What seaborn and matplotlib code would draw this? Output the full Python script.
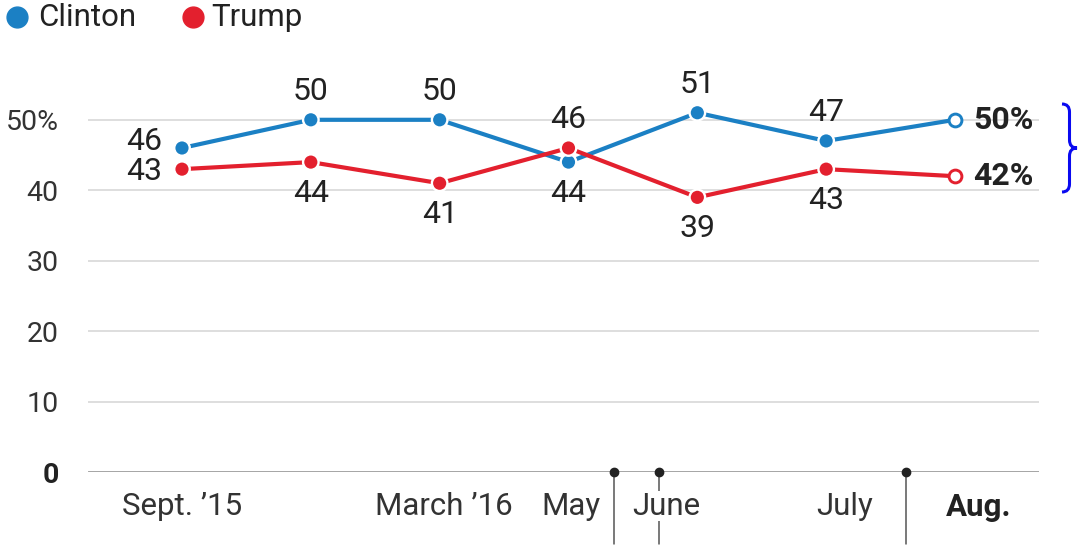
import numpy as np
import pandas as pd
import seaborn as sns
import matplotlib.pyplot as plt
from matplotlib.lines import Line2D
from matplotlib.path import Path
from matplotlib.patches import PathPatch

# Poll results, one entry per survey
polls = ["Sept. 2015", "Jan. 2016", "March 2016", "May 2016", "June 2016", "July 2016", "Aug. 2016"]
clinton = [46, 50, 50, 44, 51, 47, 50]
trump = [43, 44, 41, 46, 39, 43, 42]

# Month labels along the bottom (placed on the survey index scale)
month_labels = ["Sept. \u201915", "March \u201916", "May", "June", "July", "Aug."]
month_pos = [0.0, 2.03, 3.02, 3.76, 5.14, 6.18]
month_dividers = [3.35, 3.70, 5.62]

y_ticks = [0, 10, 20, 30, 40, 50]
y_tick_labels = ["0", "10", "20", "30", "40", "50%"]

BLUE = "#1b80c4"
RED = "#e3202e"
TEXT = "#222222"

sns.set_theme(style="white")
plt.rcParams["font.family"] = ["Roboto", "DejaVu Sans"]

df = pd.DataFrame({
    "idx": list(range(len(polls))) * 2,
    "value": clinton + trump,
    "candidate": ["Clinton"] * len(polls) + ["Trump"] * len(polls),
})
palette = {"Clinton": BLUE, "Trump": RED}

W, H = 1083, 548
fig = plt.figure(figsize=(W / 100, H / 100), dpi=100)
ax = fig.add_axes([88 / W, (H - 472.3) / H, 951 / W, 58 * 7.05 / H])
ax.set_axisbelow(False)

# gridlines and zero baseline
for y in y_ticks[1:]:
    ax.axhline(y, color="#d4d4d4", lw=1.1, zorder=0)
ax.axhline(0, color="#8a8a8a", lw=1.8, zorder=1)

sns.lineplot(data=df, x="idx", y="value", hue="candidate", palette=palette,
             lw=3.0, legend=False, ax=ax, zorder=2)
filled = df[df["idx"] < len(polls) - 1]
sns.scatterplot(data=filled, x="idx", y="value", hue="candidate", palette=palette,
                s=125, edgecolor="white", linewidth=1.7, legend=False, ax=ax, zorder=3)
last = df[df["idx"] == len(polls) - 1]
for _, r in last.iterrows():
    ax.scatter(r["idx"], r["value"], s=85, facecolor="white",
               edgecolor=palette[r["candidate"]], linewidth=2.1, zorder=4)

ax.set_xlim(-0.7296, 6.652)
ax.set_ylim(0, 58)

# value labels
lab_fs = 23
above, below = -20.5, 22.5
for i, (c, t) in enumerate(zip(clinton, trump)):
    if i == len(polls) - 1:
        ax.annotate(f"{c}%", (i, c), xytext=(13, 0), textcoords="offset points",
                    ha="left", va="center", fontsize=lab_fs, fontweight="bold", color=TEXT)
        ax.annotate(f"{t}%", (i, t), xytext=(13, 0), textcoords="offset points",
                    ha="left", va="center", fontsize=lab_fs, fontweight="bold", color=TEXT)
        continue
    if i == 0:
        ax.annotate(str(c), (i, c), xytext=(-14, 5), textcoords="offset points",
                    ha="right", va="center", fontsize=lab_fs, color=TEXT)
        ax.annotate(str(t), (i, t), xytext=(-14, -2), textcoords="offset points",
                    ha="right", va="center", fontsize=lab_fs, color=TEXT)
        continue
    c_off, t_off = (above, below) if c >= t else (below, above)
    ax.annotate(str(c), (i, c), xytext=(0, -c_off), textcoords="offset points",
                ha="center", va="center", fontsize=lab_fs, color=TEXT)
    ax.annotate(str(t), (i, t), xytext=(0, -t_off), textcoords="offset points",
                ha="center", va="center", fontsize=lab_fs, color=TEXT)

# axes text
ax.set_yticks(y_ticks)
ax.set_yticklabels(y_tick_labels, fontsize=20.5, color="#333333")
ax.get_yticklabels()[0].set_fontweight("bold")
ax.get_yticklabels()[0].set_color(TEXT)
ax.tick_params(axis="y", length=0, pad=21)

ax.set_xticks(month_pos)
ax.set_xticklabels(month_labels, fontsize=22.5, color="#333333")
ax.tick_params(axis="x", length=0, pad=14)
xl = ax.get_xticklabels()
xl[-1].set_fontweight("bold")
xl[-1].set_color(TEXT)
xl[3].set_bbox(dict(facecolor="white", edgecolor="none", pad=0.5))

ax.set_xlabel("")
ax.set_ylabel("")
for s in ax.spines.values():
    s.set_visible(False)

# month dividers below the baseline
for j, xd in enumerate(month_dividers):
    ax.plot([xd, xd], [0, -10.1], color="#555555", lw=1.1, clip_on=False, zorder=1)
    ax.plot([xd], [0], marker="o", ms=6, color="#222222", clip_on=False, zorder=5)

# legend
def fx(px):
    return px / W

def fy(py):
    return 1 - py / H

for cx, tx, name, col in [(17, 38, "Clinton", BLUE), (193, 211, "Trump", RED)]:
    fig.add_artist(Line2D([fx(cx)], [fy(17)], marker="o", ms=15, color=col, lw=0))
    fig.text(fx(tx), fy(17), name, fontsize=22.5, color="#222222", ha="left", va="center")

# curly brace beside the latest result
xs, xm, xp = 1062, 1069.5, 1077
yt, ym, yb = 104, 148, 192
verts = [(xs, yt), (xm, yt), (xm, yt + 8),
         (xm, ym - 8),
         (xm, ym), (xp, ym),
         (xm, ym), (xm, ym + 8),
         (xm, yb - 8),
         (xm, yb), (xs, yb)]
codes = [Path.MOVETO, Path.CURVE3, Path.CURVE3,
         Path.LINETO,
         Path.CURVE3, Path.CURVE3,
         Path.CURVE3, Path.CURVE3,
         Path.LINETO,
         Path.CURVE3, Path.CURVE3]
verts_fig = [(fx(x), fy(y)) for x, y in verts]
brace = PathPatch(Path(verts_fig, codes), transform=fig.transFigure, fill=False,
                  edgecolor="#0a0af0", lw=2.2)
fig.add_artist(brace)

fig.savefig("out.png", dpi=100, facecolor="white")
